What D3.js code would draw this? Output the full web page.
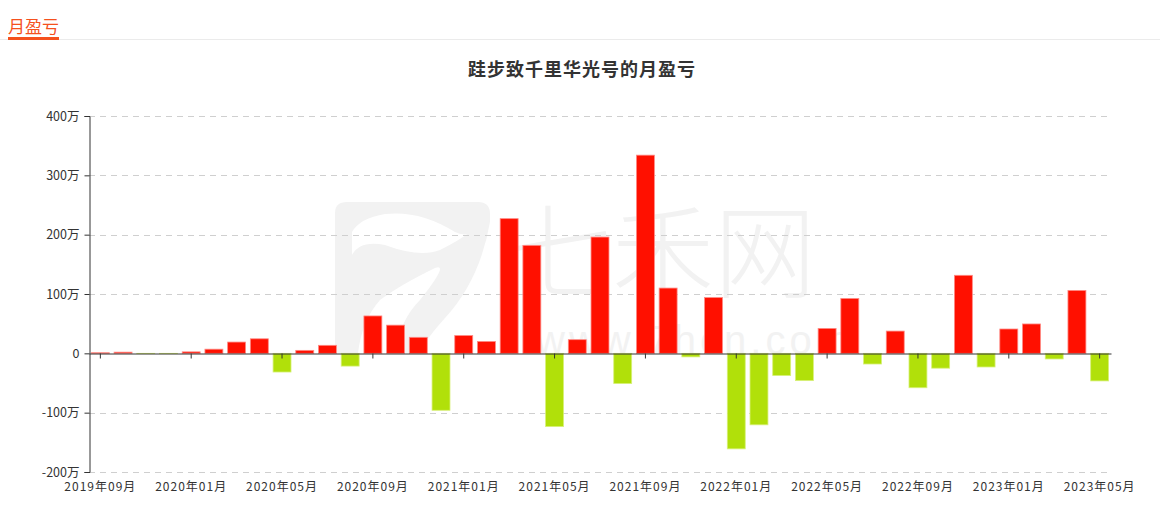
<!DOCTYPE html>
<html>
<head>
<meta charset="utf-8">
<script src="https://cdn.jsdelivr.net/npm/d3@7"></script>
<style>
  html, body { margin: 0; padding: 0; background: #fff; }
  svg { display: block; font-family: "Noto Sans CJK SC", "Noto Sans", sans-serif; }
</style>
</head>
<body>
<svg id="chart" width="1160" height="517"></svg>
<script>
const months = [
  "2019年09月","2019年10月","2019年11月","2019年12月",
  "2020年01月","2020年02月","2020年03月","2020年04月","2020年05月","2020年06月","2020年07月","2020年08月","2020年09月","2020年10月","2020年11月","2020年12月",
  "2021年01月","2021年02月","2021年03月","2021年04月","2021年05月","2021年06月","2021年07月","2021年08月","2021年09月","2021年10月","2021年11月","2021年12月",
  "2022年01月","2022年02月","2022年03月","2022年04月","2022年05月","2022年06月","2022年07月","2022年08月","2022年09月","2022年10月","2022年11月","2022年12月",
  "2023年01月","2023年02月","2023年03月","2023年04月","2023年05月"
];
// monthly profit/loss, unit: 万
const profit = [
  1, 2, -0.5, -0.5,
  2.5, 7, 19, 24.5, -31.5, 5, 13.5, -21.5, 63, 47.5, 27, -96,
  30, 20, 227, 182, -123.5, 23, 196, -51, 334, 110, -6, 94,
  -161, -120.5, -37.5, -46, 42, 92.5, -18, 37.5, -58, -25, 131.5, -23,
  41, 49.5, -9.5, 106, -46.5
];
const yTicks = [-200, -100, 0, 100, 200, 300, 400];
const xLabelMonths = months.filter((d, i) => i % 4 === 0);
const titleText = "跬步致千里华光号的月盈亏";
const tabText = "月盈亏";

const svg = d3.select("#chart");
const W = 1160, H = 517;
const plot = { left: 89, right: 1111, top: 116, bottom: 472 };

// header tab
svg.append("text").attr("x", 8).attr("y", 33).attr("fill", "#f5511e")
  .attr("font-size", 17).text(tabText);
svg.append("line").attr("x1", 0).attr("x2", W).attr("y1", 39.5).attr("y2", 39.5)
  .attr("stroke", "#ebebeb").attr("stroke-width", 1);
svg.append("rect").attr("x", 8).attr("y", 37).attr("width", 51).attr("height", 3).attr("fill", "#f5511e");

// title
svg.append("text").attr("x", 582).attr("y", 76).attr("text-anchor", "middle")
  .attr("font-size", 18).attr("letter-spacing", 1).attr("font-weight", "bold").attr("fill", "#333").text(titleText);

// watermark
const wm = svg.append("g").attr("fill", "#f2f2f2");
wm.append("path").attr("d",
  "M335,222 L335,213 Q335,202 347,202 L478,202 Q490,202 490,214 L490,222 " +
  "Q470,240 455,232 Q420,210 385,214 Q360,218 352,232 L352,222 Z");
wm.append("path").attr("d",
  "M352,255 Q360,240 385,245 Q420,258 440,250 Q460,240 470,232 L490,222 " +
  "Q480,280 445,318 Q425,340 420,353 L395,353 Q400,320 420,300 Q450,262 435,268 " +
  "Q400,285 380,300 Q362,320 358,353 L335,353 L335,300 Q340,285 352,280 Z");
wm.append("rect").attr("x", 335).attr("y", 222).attr("width", 17).attr("height", 131);
wm.append("text").attr("x", 510).attr("y", 290).attr("font-size", 102)
  .attr("font-weight", 300).text("七禾网");
wm.append("text").attr("x", 536).attr("y", 354).attr("font-size", 40)
  .attr("font-family", "'Liberation Sans', sans-serif").attr("letter-spacing", 4)
  .text("www.7hcn.com");

// scales
const x = d3.scaleBand().domain(months).range([plot.left, plot.right]).paddingInner(0.21).paddingOuter(0.105);
const xc = d3.scaleBand().domain(months).range([plot.left, plot.right]);
const y = d3.scaleLinear().domain([-200, 400]).range([plot.bottom, plot.top]);

// grid
svg.append("g").selectAll("line").data(yTicks.filter(d => d !== 0)).join("line")
  .attr("x1", plot.left).attr("x2", plot.right)
  .attr("y1", d => Math.round(y(d)) + 0.5).attr("y2", d => Math.round(y(d)) + 0.5)
  .attr("stroke", "#cfcfcf").attr("stroke-dasharray", "6,5");

// bars
svg.append("g").selectAll("rect").data(profit).join("rect")
  .attr("x", (d, i) => x(months[i]))
  .attr("width", x.bandwidth())
  .attr("y", d => y(Math.max(0, d)))
  .attr("height", d => Math.abs(y(d) - y(0)))
  .attr("fill", d => d >= 0 ? "#ff1000" : "#b1e00a")
  .attr("stroke", d => d >= 0 ? "#ff8a84" : "#d8f07a")
  .attr("stroke-width", 0.8);

// y axis
const yAxis = d3.axisLeft(y).tickValues(yTicks).tickSize(5).tickPadding(5)
  .tickFormat(d => d === 0 ? "0" : d + "万");
const gy = svg.append("g").attr("transform", `translate(${plot.left + 0.5},0)`).call(yAxis);
gy.select(".domain").attr("stroke", "#333");
gy.selectAll(".tick line").attr("stroke", "#333");
gy.selectAll(".tick text").attr("fill", "#333").attr("font-size", 12.5)
  .attr("font-family", "'Noto Sans CJK SC', sans-serif");

// x axis (zero line with ticks)
const xAxis = d3.axisBottom(xc).tickValues(xLabelMonths).tickSize(5).tickSizeOuter(0).tickFormat("");
const gx = svg.append("g").attr("transform", `translate(0,${Math.round(y(0)) + 0.5})`).call(xAxis);
gx.select(".domain").attr("stroke", "#333");
gx.selectAll(".tick line").attr("stroke", "#333");

// x labels at bottom
svg.append("g").selectAll("text").data(xLabelMonths).join("text")
  .attr("x", d => xc(d) + xc.bandwidth() / 2)
  .attr("y", 491)
  .attr("text-anchor", "middle").attr("font-size", 12).attr("letter-spacing", 1).attr("fill", "#333")
  .text(d => d);
</script>
</body>
</html>
